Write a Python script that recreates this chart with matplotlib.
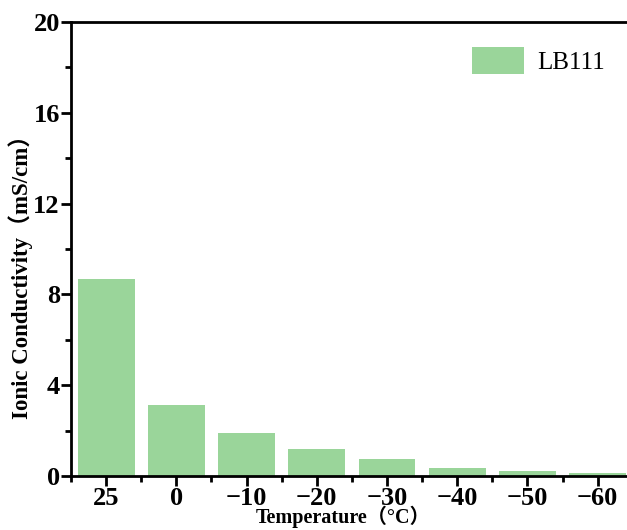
import numpy as np
import matplotlib.pyplot as plt
from matplotlib.ticker import MultipleLocator

# temperatures and measured ionic conductivity (mS/cm)
temps = ["25", "0", "\u221210", "\u221220", "\u221230", "\u221240", "\u221250", "\u221260"]
conductivity = [8.68, 3.13, 1.91, 1.19, 0.75, 0.37, 0.24, 0.12]
series_name = "LB111"

bar_color = "#9AD59A"
fam = ["Liberation Serif", "Noto Sans CJK SC"]

fig = plt.figure(figsize=(6.27, 5.30), dpi=100)
ax = fig.add_axes([0.1132, 0.1019, 0.896, 0.8566])

x = np.arange(len(temps))
ax.bar(x, conductivity, width=0.81, color=bar_color, label=series_name)

ax.set_xlim(-0.5, len(temps) - 0.5)
ax.set_ylim(0, 20)
ax.set_xticks(x)
ax.set_xticklabels(temps)
ax.xaxis.set_minor_locator(MultipleLocator(1, offset=0.5))
ax.yaxis.set_major_locator(MultipleLocator(4))
ax.yaxis.set_minor_locator(MultipleLocator(2))

for side in ["top", "right", "left", "bottom"]:
    ax.spines[side].set_linewidth(2)
ax.tick_params(which="major", direction="out", length=7, width=2, pad=1)
ax.tick_params(which="minor", direction="out", length=4, width=2)
for lab in ax.get_xticklabels() + ax.get_yticklabels():
    lab.set_fontfamily(fam)
    lab.set_fontweight("bold")
    lab.set_fontsize(19)

ax.set_xlabel("Temperature（°C）", fontfamily=fam, fontweight="bold", fontsize=14.5)
ax.xaxis.set_label_coords(0.484, -0.066)
ax.set_ylabel("Ionic Conductivity（mS/cm）", fontfamily=fam, fontweight="bold", fontsize=16.5)
ax.yaxis.set_label_coords(-0.068, 0.45)

ax.legend(loc="upper right", bbox_to_anchor=(0.99, 0.995), frameon=False,
          prop={"family": fam, "size": 18}, handlelength=2.1, handleheight=1.3,
          handletextpad=0.5)

fig.savefig("out.png", dpi=100)
